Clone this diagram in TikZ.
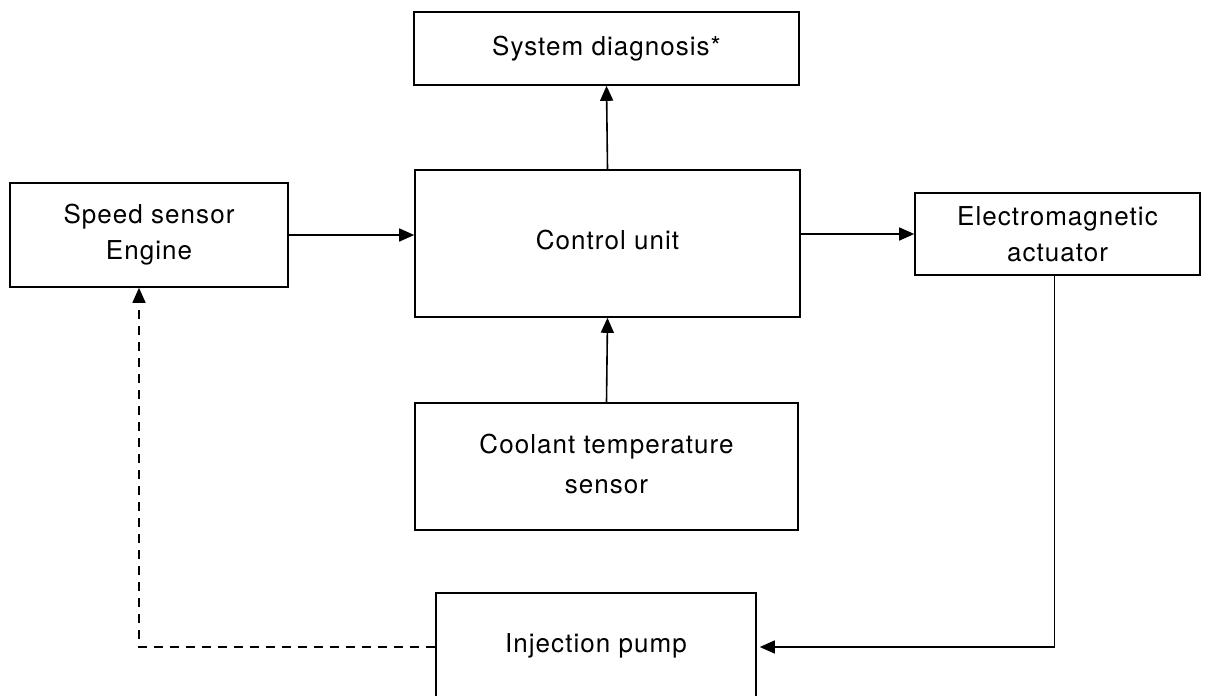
\documentclass[tikz,border=0pt]{standalone}
\usepackage{fontspec}
\setmainfont[LetterSpace=4]{TeX Gyre Heros}
\usetikzlibrary{arrows.meta}
\begin{document}
\begin{tikzpicture}[x=1pt,y=-1pt,
  box/.style={draw, line width=1.6pt, inner sep=0pt, align=center,
    font=\fontsize{26}{36}\selectfont},
  conn/.style={line width=1.6pt, -{Triangle[length=15pt,width=13pt]}},
  dconn/.style={conn, dashed, dash pattern=on 9pt off 7pt}]
\useasboundingbox (0,0) rectangle (1205,696);
\node[box, minimum width=385, minimum height=73] (diag) at (606.5,48.5) {\raisebox{4pt}{System diagnosis*}};
\node[box, minimum width=278, minimum height=104] (speed) at (149,235) {Speed sensor\\Engine};
\node[box, minimum width=385, minimum height=147] (ctrl) at (607.5,243.5) {\raisebox{7pt}{Control unit}};
\node[box, minimum width=285, minimum height=82] (act) at (1057.5,234) {Electromagnetic\\actuator};
\node[box, minimum width=383, minimum height=127] (cool) at (606.5,466.5) {\raisebox{13pt}{\begin{tabular}{@{}c@{}}Coolant temperature\\[4pt]sensor\end{tabular}}};
\node[box, minimum width=320, minimum height=108] (pump) at (596,647) {\raisebox{7pt}{Injection pump}};
\draw[conn] (ctrl.north) -- (diag.south);
\draw[conn] (speed.east) -- (speed.east -| ctrl.west);
\draw[conn] (act.west -| ctrl.east) -- (act.west);
\draw[conn] (cool.north) -- (ctrl.south);
\draw[conn, shorten >=3pt] ([xshift=-3pt]act.south) |- (pump.east);
\draw[dconn] (pump.west) -| ([xshift=-10pt]speed.south);
\end{tikzpicture}
\end{document}
